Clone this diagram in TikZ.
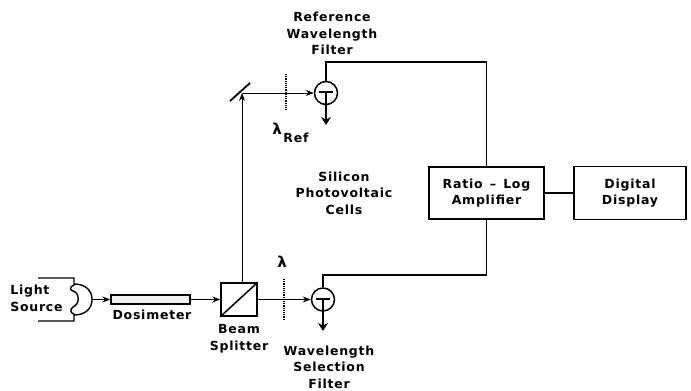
\documentclass[tikz,border=0pt]{standalone}
\usepackage{fontspec}
\setmainfont[LetterSpace=6]{DejaVu Sans}
\usetikzlibrary{arrows.meta}
\tikzset{
	labeltext/.style={font=\fontsize{12.5}{16.5}\selectfont\bfseries,align=center,inner sep=0pt},
	wire/.style={line width=1.4pt},
	beam/.style={line width=0.8pt,-{Stealth[length=8pt,width=6pt]}},
	filterline/.style={line width=1.2pt,densely dotted},
	blockbox/.style={draw,line width=1.4pt,minimum width=115pt,minimum height=52pt,inner sep=0pt},
	cell/.style={draw,circle,line width=1.5pt,minimum size=23pt,inner sep=0pt},
	ground/.style={line width=1.6pt,-{Stealth[length=8pt,width=10pt]}}
}
\begin{document}
\begin{tikzpicture}[>=stealth,x=1pt,y=-1pt,line width=0.7pt]
	\useasboundingbox (0,0) rectangle (691,391);
	% boxes
	\node[blockbox,labeltext] (ratio) at (486.5,193) {Ratio\, -- \,Log\\Amplifier};
	\node[blockbox,labeltext,minimum width=112pt,minimum height=53pt] (display) at (630,193) {Digital\\Display};
	\draw[wire] (ratio) -- (display);
	% optics, lower branch
	\node[draw,line width=1.4pt,fill=black!6,minimum width=79pt,minimum height=9pt,inner sep=0pt] (dosimeter) at (150.5,299.5) {};
	\node[draw,line width=1.5pt,minimum width=36pt,minimum height=33pt,inner sep=0pt] (splitter) at (239,299.5) {};
	\draw[line width=1.5pt] (splitter.south west) -- (splitter.north east);
	\node[cell] (celllow) at (323,299.5) {};
	\node[cell] (cellup) at (326,93) {};
	% light source
	\coordinate (lamp) at (92,299.5);
	\coordinate (lamptop) at (74,278);
	\coordinate (lampbot) at (74,321);
	\draw[wire] (38,278) -- (lamptop) -- (74,285) .. controls (69,287) and (70,290) .. (73,291) .. controls (80,293) and (80,304) .. (73,307) .. controls (70,309) and (70,313) .. (74,314) -- (lampbot) -- (38,321);
	\draw[wire] (74,284) .. controls (86,284) and (92,291) .. (lamp) .. controls (92,308) and (86,315) .. (74,315);
	\draw[beam] (lamp) -- (dosimeter.west);
	\draw[beam] (dosimeter.east) -- (splitter.west);
	\draw[beam] (splitter.east) -- (celllow.west);
	% mirror and upper branch
	\coordinate (mirrorlow) at (230,101);
	\coordinate (mirrorup) at (250,83);
	\coordinate (mirrorhit) at (242,93);
	\draw[line width=1.8pt] (mirrorlow) -- (mirrorup);
	\draw[beam] (splitter.north-|mirrorhit) -- (mirrorhit);
	\draw[beam] (mirrorhit) -- (cellup.west);
	% filters
	\draw[filterline] (286,74) -- (286,110);
	\draw[filterline] (284,279) -- (284,319);
	% cells
	\coordinate (barup) at (326,92);
	\coordinate (barlow) at (323,299);
	\draw[line width=1.2pt] (319,92) -- (333,92);
	\draw[line width=1.2pt] (316,299) -- (330,299);
	\coordinate (groundup) at (326,125);
	\coordinate (groundlow) at (323,331);
	\draw[ground] (barup) -- (groundup);
	\draw[ground] (barlow) -- (groundlow);
	% wires to the amplifier
	\draw[wire] (cellup.north) |- (486.5,62) -- (ratio.north);
	\draw[wire] (celllow.north) |- (486.5,275) -- (ratio.south);
	% labels
	\node[labeltext] (reftext) at (332,33.5) {Reference\\Wavelength\\Filter};
	\node[labeltext,font=\fontsize{15}{15}\selectfont\bfseries] (lamreftext) at (277,129) {λ};
	\node[labeltext] (reftext2) at (296,138) {Ref};
	\node[labeltext,font=\fontsize{15}{15}\selectfont\bfseries] (lamtext) at (282,262) {λ};
	\node[labeltext] (celltext) at (344,193) {Silicon\\Photovoltaic\\Cells};
	\node[labeltext,align=left,anchor=west] (lighttext) at (10,298.5) {Light\\Source};
	\node[labeltext] (dosetext) at (152,315) {Dosimeter};
	\node[labeltext] (splittext) at (239,338.5) {Beam\\Splitter};
	\node[labeltext] (seltext) at (329,367) {Wavelength\\Selection\\Filter};
\end{tikzpicture}
\end{document}
